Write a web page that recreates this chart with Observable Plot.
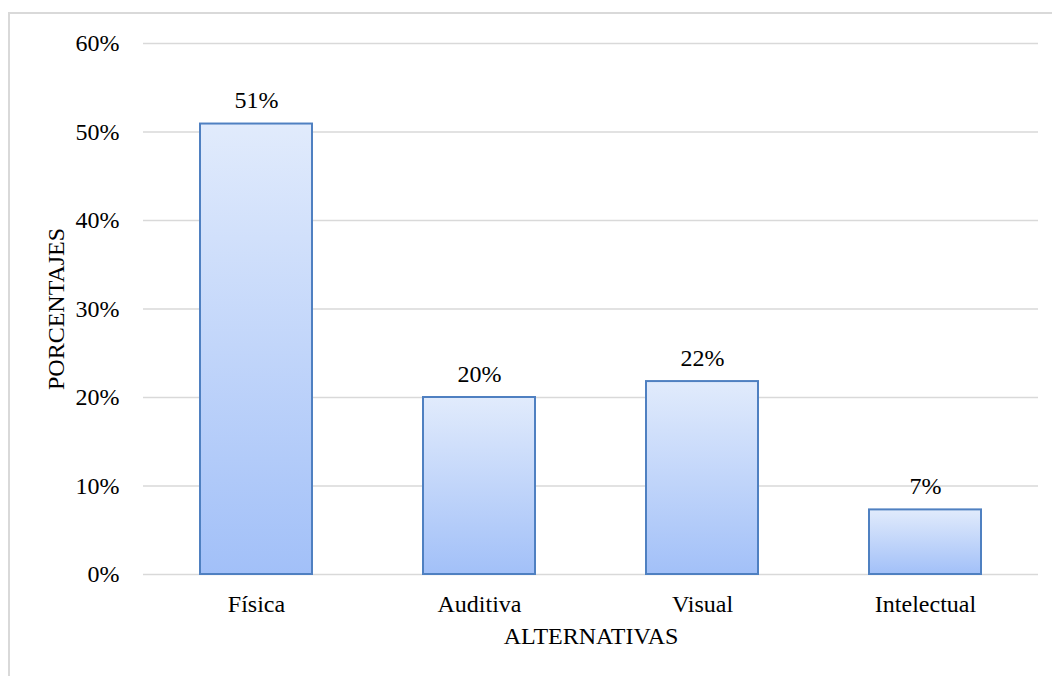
<!DOCTYPE html>
<html>
<head>
<meta charset="utf-8">
<script src="https://cdn.jsdelivr.net/npm/d3@7"></script>
<script src="https://cdn.jsdelivr.net/npm/@observablehq/plot@0.6"></script>
<style>
  html, body { margin: 0; padding: 0; background: #fff; overflow: hidden; }
  #wrap { position: relative; width: 1052px; height: 676px; }
  #frame { position: absolute; left: 8px; top: 12px; width: 1100px; height: 700px;
           border-left: 2px solid #d9d9d9; border-top: 2px solid #d9d9d9; pointer-events: none; }
  svg { display: block; }
  svg, svg text { font-family: "Liberation Serif", "Times New Roman", serif !important; }
</style>
</head>
<body>
<div id="wrap"><div id="frame"></div></div>
<script>
const categories = ["Física", "Auditiva", "Visual", "Intelectual"];
const values = [0.509, 0.200, 0.218, 0.073];
const valueLabels = ["51%", "20%", "22%", "7%"];
const yTicks = [0, 0.1, 0.2, 0.3, 0.4, 0.5, 0.6];
const xTitle = "ALTERNATIVAS";
const yTitle = "PORCENTAJES";

const data = categories.map((c, i) => ({cat: c, value: values[i], label: valueLabels[i]}));
const font = "'Liberation Serif', 'Times New Roman', serif";
const fs = 24;

const defs = () => {
  const g = d3.create("svg:defs");
  const lg = g.append("linearGradient").attr("id", "barGrad")
    .attr("x1", 0).attr("y1", 0).attr("x2", 0).attr("y2", 1);
  lg.append("stop").attr("offset", "0%").attr("stop-color", "#e1ebfc");
  lg.append("stop").attr("offset", "100%").attr("stop-color", "#a2c0f8");
  const f = g.append("filter").attr("id", "shadow").attr("x", "-10%").attr("y", "-10%").attr("width", "130%").attr("height", "130%");
  f.append("feDropShadow").attr("dx", 1.5).attr("dy", 1.5).attr("stdDeviation", 1.2)
    .attr("flood-color", "#000").attr("flood-opacity", 0.18);
  return g.node();
};

const chart = Plot.plot({
  width: 1052,
  height: 676,
  marginLeft: 143,
  marginRight: 14,
  marginTop: 43,
  marginBottom: 102,
  style: {fontFamily: font, fontSize: fs + "px", color: "#000", background: "transparent"},
  x: {domain: categories, paddingInner: 0.5, paddingOuter: 0.25, label: null},
  y: {domain: [0, 0.6], label: null},
  marks: [
    defs,
    Plot.ruleY(yTicks, {stroke: "#d9d9d9", strokeWidth: 1.5}),
    Plot.barY(data, {x: "cat", y: "value", fill: "url(#barGrad)", stroke: "#4f80c1", strokeWidth: 2}),
    Plot.text(data, {x: "cat", y: "value", text: "label", lineAnchor: "bottom", dy: -16, fontSize: fs, fontFamily: font, fill: "#000"}),
    Plot.axisY({ticks: yTicks, tickFormat: d3.format(".0%"), tickSize: 0, tickPadding: 24, label: null, fontSize: fs, fontFamily: font}),
    Plot.axisX({tickSize: 0, tickPadding: 20, label: null, fontSize: fs, fontFamily: font}),
    Plot.text([xTitle], {frameAnchor: "bottom", dy: 62, lineAnchor: "middle", textAnchor: "middle", text: d => d, fontSize: fs, fontFamily: font, fill: "#000"}),
    Plot.text([yTitle], {frameAnchor: "left", dx: -87, rotate: -90, lineAnchor: "middle", textAnchor: "middle", text: d => d, fontSize: fs, fontFamily: font, fill: "#000"})
  ]
});
chart.querySelectorAll("rect[fill='url(#barGrad)']").forEach(r => r.setAttribute("filter", "url(#shadow)"));
document.getElementById("wrap").prepend(chart);
</script>
</body>
</html>
